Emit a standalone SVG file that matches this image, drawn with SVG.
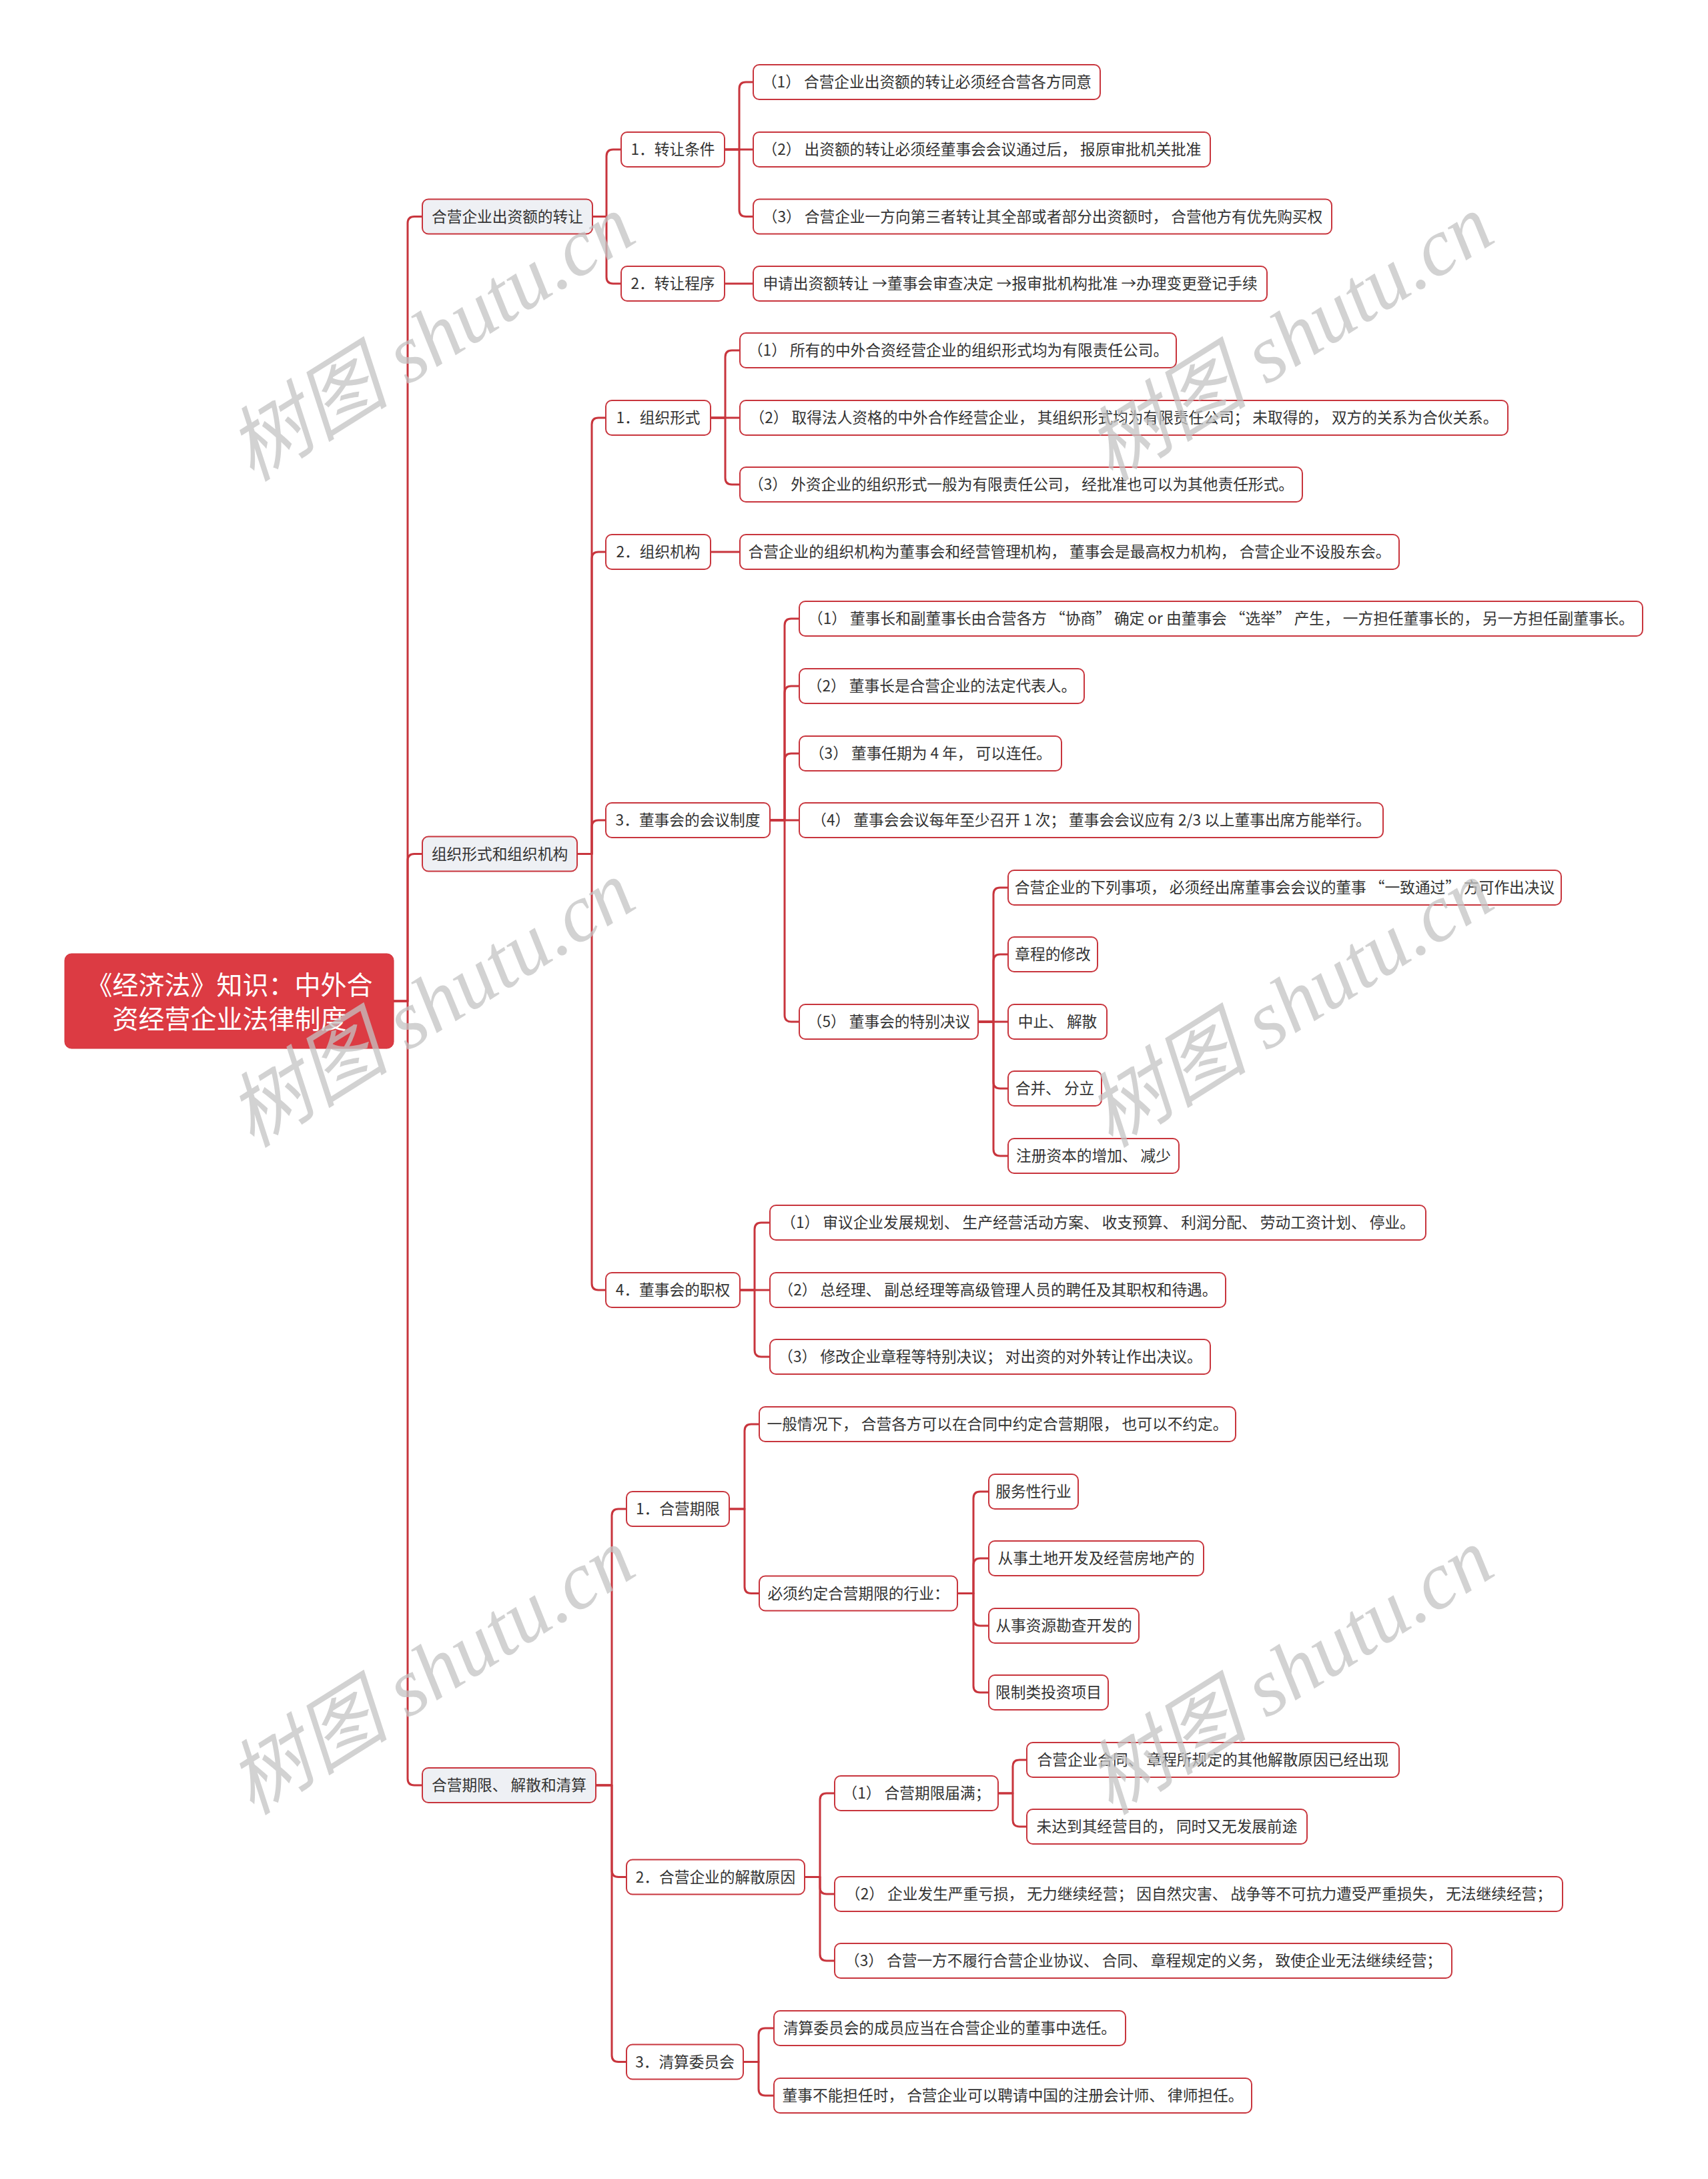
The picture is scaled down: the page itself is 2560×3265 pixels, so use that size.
<svg xmlns="http://www.w3.org/2000/svg" width="2560" height="3265" viewBox="0 0 2560 3265">
<style>
.bg{fill:#ffffff}
.n{fill:#ffffff;stroke:#c8353d;stroke-width:2}
.l1{fill:#eef0f4;stroke:#c8353d;stroke-width:2}
.root{fill:#dc3b43;stroke:#d3353d;stroke-width:1}
.t{font-family:"Noto Sans CJK SC",sans-serif;font-size:22.7px;fill:#333333;text-anchor:middle}
.rt{font-family:"Noto Sans CJK SC",sans-serif;font-size:39px;fill:#ffffff;text-anchor:middle}
.c{fill:none;stroke:#c8353d;stroke-width:3;stroke-linejoin:round;stroke-linecap:round}
.wm{font-family:"Liberation Serif","Noto Sans CJK SC",serif;font-size:122px;font-style:italic;fill:#c4c4c4;opacity:0.75;text-anchor:middle}
</style>
<rect class="bg" x="0" y="0" width="2560" height="3265"/>
<g id="connectors">
<path class="c" d="M590 1500 H611 V334.5 Q611 324.5 621 324.5 H633"/>
<path class="c" d="M590 1500 H611 V1289.5 Q611 1279.5 621 1279.5 H633"/>
<path class="c" d="M590 1500 H611 V2665 Q611 2675 621 2675 H633"/>
<path class="c" d="M888 324.5 H909 V234 Q909 224 919 224 H931"/>
<path class="c" d="M888 324.5 H909 V415 Q909 425 919 425 H931"/>
<path class="c" d="M1086 224 H1108 V133 Q1108 123 1118 123 H1129"/>
<path class="c" d="M1086 224 H1129"/>
<path class="c" d="M1086 224 H1108 V314.5 Q1108 324.5 1118 324.5 H1129"/>
<path class="c" d="M1086 425 H1129"/>
<path class="c" d="M865 1279.5 H887 V636 Q887 626 897 626 H908"/>
<path class="c" d="M865 1279.5 H887 V837 Q887 827 897 827 H908"/>
<path class="c" d="M865 1279.5 H887 V1239 Q887 1229 897 1229 H908"/>
<path class="c" d="M865 1279.5 H887 V1923 Q887 1933 897 1933 H908"/>
<path class="c" d="M1065 626 H1087 V535 Q1087 525 1097 525 H1109"/>
<path class="c" d="M1065 626 H1109"/>
<path class="c" d="M1065 626 H1087 V716 Q1087 726 1097 726 H1109"/>
<path class="c" d="M1065 827 H1109"/>
<path class="c" d="M1154 1229 H1176 V937 Q1176 927 1186 927 H1198"/>
<path class="c" d="M1154 1229 H1176 V1038 Q1176 1028 1186 1028 H1198"/>
<path class="c" d="M1154 1229 H1176 V1139 Q1176 1129 1186 1129 H1198"/>
<path class="c" d="M1154 1229 H1198"/>
<path class="c" d="M1154 1229 H1176 V1521 Q1176 1531 1186 1531 H1198"/>
<path class="c" d="M1466 1531 H1489 V1340 Q1489 1330 1499 1330 H1511"/>
<path class="c" d="M1466 1531 H1489 V1440 Q1489 1430 1499 1430 H1511"/>
<path class="c" d="M1466 1531 H1511"/>
<path class="c" d="M1466 1531 H1489 V1621 Q1489 1631 1499 1631 H1511"/>
<path class="c" d="M1466 1531 H1489 V1722 Q1489 1732 1499 1732 H1511"/>
<path class="c" d="M1109 1933 H1131 V1842 Q1131 1832 1141 1832 H1154"/>
<path class="c" d="M1109 1933 H1154"/>
<path class="c" d="M1109 1933 H1131 V2023 Q1131 2033 1141 2033 H1154"/>
<path class="c" d="M893 2675 H917 V2271 Q917 2261 927 2261 H939"/>
<path class="c" d="M893 2675 H917 V2802.5 Q917 2812.5 927 2812.5 H939"/>
<path class="c" d="M893 2675 H917 V3079.5 Q917 3089.5 927 3089.5 H939"/>
<path class="c" d="M1093 2261 H1116 V2144 Q1116 2134 1126 2134 H1138"/>
<path class="c" d="M1093 2261 H1116 V2377.5 Q1116 2387.5 1126 2387.5 H1138"/>
<path class="c" d="M1435 2387.5 H1459 V2245 Q1459 2235 1469 2235 H1482"/>
<path class="c" d="M1435 2387.5 H1459 V2345 Q1459 2335 1469 2335 H1482"/>
<path class="c" d="M1435 2387.5 H1459 V2426 Q1459 2436 1469 2436 H1482"/>
<path class="c" d="M1435 2387.5 H1459 V2526 Q1459 2536 1469 2536 H1482"/>
<path class="c" d="M1206 2812.5 H1229 V2697 Q1229 2687 1239 2687 H1251"/>
<path class="c" d="M1206 2812.5 H1229 V2828 Q1229 2838 1239 2838 H1251"/>
<path class="c" d="M1206 2812.5 H1229 V2928 Q1229 2938 1239 2938 H1251"/>
<path class="c" d="M1496 2687 H1518 V2647 Q1518 2637 1528 2637 H1539"/>
<path class="c" d="M1496 2687 H1518 V2727 Q1518 2737 1528 2737 H1539"/>
<path class="c" d="M1114 3089.5 H1137 V3049 Q1137 3039 1147 3039 H1160"/>
<path class="c" d="M1114 3089.5 H1137 V3130 Q1137 3140 1147 3140 H1160"/>
</g>
<g id="root"><rect class="root" x="97" y="1429" width="493" height="142" rx="10"/><text class="rt" x="344" y="1490">《经济法》知识：中外合</text><text class="rt" x="344" y="1541">资经营企业法律制度</text></g>
<g id="A"><rect class="l1" x="633" y="298.5" width="255" height="52" rx="9"/><text class="t" x="760.5" y="332.5">合营企业出资额的转让</text></g>
<g id="B"><rect class="l1" x="633" y="1253.5" width="232" height="52" rx="9"/><text class="t" x="749" y="1287.5">组织形式和组织机构</text></g>
<g id="C"><rect class="l1" x="633" y="2649" width="260" height="52" rx="9"/><text class="t" x="763" y="2683">合营期限、 解散和清算</text></g>
<g id="A1"><rect class="n" x="931" y="198" width="155" height="52" rx="9"/><text class="t" x="1008.5" y="232">1．转让条件</text></g>
<g id="A2"><rect class="n" x="931" y="399" width="155" height="52" rx="9"/><text class="t" x="1008.5" y="433">2．转让程序</text></g>
<g id="A1a"><rect class="n" x="1129" y="97" width="520" height="52" rx="9"/><text class="t" x="1389" y="131">（1） 合营企业出资额的转让必须经合营各方同意</text></g>
<g id="A1b"><rect class="n" x="1129" y="198" width="685" height="52" rx="9"/><text class="t" x="1471.5" y="232">（2） 出资额的转让必须经董事会会议通过后， 报原审批机关批准</text></g>
<g id="A1c"><rect class="n" x="1129" y="298.5" width="867" height="52" rx="9"/><text class="t" x="1562.5" y="332.5">（3） 合营企业一方向第三者转让其全部或者部分出资额时， 合营他方有优先购买权</text></g>
<g id="A2a"><rect class="n" x="1129" y="399" width="770" height="52" rx="9"/><text class="t" x="1514" y="433">申请出资额转让 →董事会审查决定 →报审批机构批准 →办理变更登记手续</text></g>
<g id="B1"><rect class="n" x="908" y="600" width="157" height="52" rx="9"/><text class="t" x="986.5" y="634">1．组织形式</text></g>
<g id="B2"><rect class="n" x="908" y="801" width="157" height="52" rx="9"/><text class="t" x="986.5" y="835">2．组织机构</text></g>
<g id="B3"><rect class="n" x="908" y="1203" width="246" height="52" rx="9"/><text class="t" x="1031" y="1237">3．董事会的会议制度</text></g>
<g id="B4"><rect class="n" x="908" y="1907" width="201" height="52" rx="9"/><text class="t" x="1008.5" y="1941">4．董事会的职权</text></g>
<g id="B1a"><rect class="n" x="1109" y="499" width="654" height="52" rx="9"/><text class="t" x="1436" y="533">（1） 所有的中外合资经营企业的组织形式均为有限责任公司。</text></g>
<g id="B1b"><rect class="n" x="1109" y="600" width="1151" height="52" rx="9"/><text class="t" x="1684.5" y="634">（2） 取得法人资格的中外合作经营企业， 其组织形式均为有限责任公司； 未取得的， 双方的关系为合伙关系。</text></g>
<g id="B1c"><rect class="n" x="1109" y="700" width="843" height="52" rx="9"/><text class="t" x="1530.5" y="734">（3） 外资企业的组织形式一般为有限责任公司， 经批准也可以为其他责任形式。</text></g>
<g id="B2a"><rect class="n" x="1109" y="801" width="988" height="52" rx="9"/><text class="t" x="1603" y="835">合营企业的组织机构为董事会和经营管理机构， 董事会是最高权力机构， 合营企业不设股东会。</text></g>
<g id="B3a"><rect class="n" x="1198" y="901" width="1264" height="52" rx="9"/><text class="t" x="1830" y="935">（1） 董事长和副董事长由合营各方 “协商” 确定 or 由董事会 “选举” 产生， 一方担任董事长的， 另一方担任副董事长。</text></g>
<g id="B3b"><rect class="n" x="1198" y="1002" width="427" height="52" rx="9"/><text class="t" x="1411.5" y="1036">（2） 董事长是合营企业的法定代表人。</text></g>
<g id="B3c"><rect class="n" x="1198" y="1103" width="393" height="52" rx="9"/><text class="t" x="1394.5" y="1137">（3） 董事任期为 4 年， 可以连任。</text></g>
<g id="B3d"><rect class="n" x="1198" y="1203" width="875" height="52" rx="9"/><text class="t" x="1635.5" y="1237">（4） 董事会会议每年至少召开 1 次； 董事会会议应有 2/3 以上董事出席方能举行。</text></g>
<g id="B3e"><rect class="n" x="1198" y="1505" width="268" height="52" rx="9"/><text class="t" x="1332" y="1539">（5） 董事会的特别决议</text></g>
<g id="B3e1"><rect class="n" x="1511" y="1304" width="829" height="52" rx="9"/><text class="t" x="1925.5" y="1338">合营企业的下列事项， 必须经出席董事会会议的董事 “一致通过” 方可作出决议</text></g>
<g id="B3e2"><rect class="n" x="1511" y="1404" width="134" height="52" rx="9"/><text class="t" x="1578" y="1438">章程的修改</text></g>
<g id="B3e3"><rect class="n" x="1511" y="1505" width="148" height="52" rx="9"/><text class="t" x="1585" y="1539">中止、 解散</text></g>
<g id="B3e4"><rect class="n" x="1511" y="1605" width="140" height="52" rx="9"/><text class="t" x="1581" y="1639">合并、 分立</text></g>
<g id="B3e5"><rect class="n" x="1511" y="1706" width="256" height="52" rx="9"/><text class="t" x="1639" y="1740">注册资本的增加、 减少</text></g>
<g id="B4a"><rect class="n" x="1154" y="1806" width="983" height="52" rx="9"/><text class="t" x="1645.5" y="1840">（1） 审议企业发展规划、 生产经营活动方案、 收支预算、 利润分配、 劳动工资计划、 停业。</text></g>
<g id="B4b"><rect class="n" x="1154" y="1907" width="683" height="52" rx="9"/><text class="t" x="1495.5" y="1941">（2） 总经理、 副总经理等高级管理人员的聘任及其职权和待遇。</text></g>
<g id="B4c"><rect class="n" x="1154" y="2007" width="660" height="52" rx="9"/><text class="t" x="1484" y="2041">（3） 修改企业章程等特别决议； 对出资的对外转让作出决议。</text></g>
<g id="C1"><rect class="n" x="939" y="2235" width="154" height="52" rx="9"/><text class="t" x="1016" y="2269">1．合营期限</text></g>
<g id="C2"><rect class="n" x="939" y="2786.5" width="267" height="52" rx="9"/><text class="t" x="1072.5" y="2820.5">2．合营企业的解散原因</text></g>
<g id="C3"><rect class="n" x="939" y="3063.5" width="175" height="52" rx="9"/><text class="t" x="1026.5" y="3097.5">3．清算委员会</text></g>
<g id="C1a"><rect class="n" x="1138" y="2108" width="714" height="52" rx="9"/><text class="t" x="1495" y="2142">一般情况下， 合营各方可以在合同中约定合营期限， 也可以不约定。</text></g>
<g id="C1b"><rect class="n" x="1138" y="2361.5" width="297" height="52" rx="9"/><text class="t" x="1286.5" y="2395.5">必须约定合营期限的行业：</text></g>
<g id="C1b1"><rect class="n" x="1482" y="2209" width="134" height="52" rx="9"/><text class="t" x="1549" y="2243">服务性行业</text></g>
<g id="C1b2"><rect class="n" x="1482" y="2309" width="322" height="52" rx="9"/><text class="t" x="1643" y="2343">从事土地开发及经营房地产的</text></g>
<g id="C1b3"><rect class="n" x="1482" y="2410" width="225" height="52" rx="9"/><text class="t" x="1594.5" y="2444">从事资源勘查开发的</text></g>
<g id="C1b4"><rect class="n" x="1482" y="2510" width="179" height="52" rx="9"/><text class="t" x="1571.5" y="2544">限制类投资项目</text></g>
<g id="C2a"><rect class="n" x="1251" y="2661" width="245" height="52" rx="9"/><text class="t" x="1373.5" y="2695">（1） 合营期限届满；</text></g>
<g id="C2b"><rect class="n" x="1251" y="2812" width="1091" height="52" rx="9"/><text class="t" x="1796.5" y="2846">（2） 企业发生严重亏损， 无力继续经营； 因自然灾害、 战争等不可抗力遭受严重损失， 无法继续经营；</text></g>
<g id="C2c"><rect class="n" x="1251" y="2912" width="925" height="52" rx="9"/><text class="t" x="1713.5" y="2946">（3） 合营一方不履行合营企业协议、 合同、 章程规定的义务， 致使企业无法继续经营；</text></g>
<g id="C2a1"><rect class="n" x="1539" y="2611" width="558" height="52" rx="9"/><text class="t" x="1818" y="2645">合营企业合同、 章程所规定的其他解散原因已经出现</text></g>
<g id="C2a2"><rect class="n" x="1539" y="2711" width="420" height="52" rx="9"/><text class="t" x="1749" y="2745">未达到其经营目的， 同时又无发展前途</text></g>
<g id="C3a"><rect class="n" x="1160" y="3013" width="527" height="52" rx="9"/><text class="t" x="1423.5" y="3047">清算委员会的成员应当在合营企业的董事中选任。</text></g>
<g id="C3b"><rect class="n" x="1160" y="3114" width="716" height="52" rx="9"/><text class="t" x="1518" y="3148">董事不能担任时， 合营企业可以聘请中国的注册会计师、 律师担任。</text></g>
<g id="watermarks">
<text class="wm" x="646" y="548" transform="rotate(-32 646 506)">树图 shutu.cn</text>
<text class="wm" x="1933" y="548" transform="rotate(-32 1933 506)">树图 shutu.cn</text>
<text class="wm" x="646" y="1546" transform="rotate(-32 646 1504)">树图 shutu.cn</text>
<text class="wm" x="1933" y="1546" transform="rotate(-32 1933 1504)">树图 shutu.cn</text>
<text class="wm" x="646" y="2546" transform="rotate(-32 646 2504)">树图 shutu.cn</text>
<text class="wm" x="1933" y="2546" transform="rotate(-32 1933 2504)">树图 shutu.cn</text>
</g>
</svg>
